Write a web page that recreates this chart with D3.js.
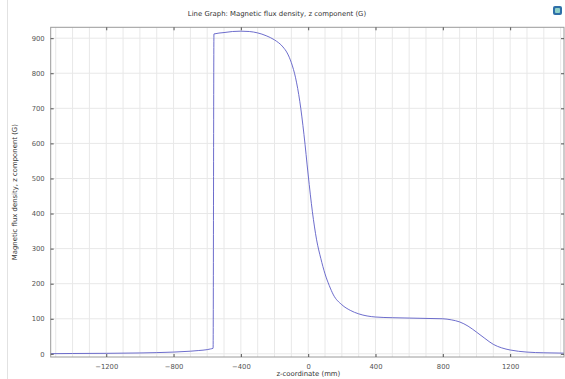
<!DOCTYPE html>
<html>
<head>
<meta charset="utf-8">
<script src="https://cdn.jsdelivr.net/npm/d3@7"></script>
<style>
  body { margin: 0; background: #fff; }
  svg text { font-family: "DejaVu Sans", sans-serif; }
</style>
</head>
<body>
<div id="chart"></div>
<script>
// z-coordinate (mm) and Bz (G)
const zPos = [-1530, -1400, -1200, -1000, -900, -800, -700, -650, -600, -580, -565,
  -560, -500, -450, -400, -350, -300, -250, -200, -150, -125, -100, -75, -50, -25,
  0, 25, 50, 75, 100, 125, 150, 200, 250, 300, 350, 400, 500, 600, 700, 800,
  850, 900, 950, 1000, 1050, 1100, 1150, 1200, 1300, 1400, 1520];
const bz = [0.5, 1, 1.5, 2.5, 3.5, 5, 7.5, 9.5, 12, 14, 16,
  912, 916, 919, 920, 919, 915, 907, 895, 875, 858, 830, 787, 720, 625,
  510, 405, 325, 272, 228, 195, 168, 140, 124, 114, 108, 105, 103, 102, 101, 100,
  97, 91, 79, 62, 44, 27, 17, 11, 5, 3, 2];
const xTicks = [-1200, -800, -400, 0, 400, 800, 1200];
const yTicks = [0, 100, 200, 300, 400, 500, 600, 700, 800, 900];

const W = 565, H = 379;
const plot = { left: 50.7, right: 564, top: 27.3, bottom: 357 };

const svg = d3.select('#chart').append('svg')
  .attr('width', W)
  .attr('height', H);

// panel border on the left
svg.append('line')
  .attr('x1', 7.5).attr('x2', 7.5).attr('y1', 0).attr('y2', H)
  .attr('stroke', '#e2e2e2');

const x = d3.scaleLinear().domain([-1530, 1520]).range([plot.left, plot.right]);
const y = d3.scaleLinear().domain([-9, 931]).range([plot.bottom, plot.top]);

// grid
const grid = svg.append('g').attr('class', 'grid');
grid.selectAll('line.vx')
  .data(d3.range(-1500, 1501, 100))
  .enter().append('line')
  .attr('x1', d => x(d)).attr('x2', d => x(d))
  .attr('y1', plot.top).attr('y2', plot.bottom)
  .attr('stroke', '#e8e8e8').attr('stroke-width', 1);
grid.selectAll('line.hy')
  .data(yTicks)
  .enter().append('line')
  .attr('x1', plot.left).attr('x2', plot.right)
  .attr('y1', d => y(d)).attr('y2', d => y(d))
  .attr('stroke', '#e8e8e8').attr('stroke-width', 1);

// data line
const line = d3.line()
  .x((d, i) => x(zPos[i]))
  .y(d => y(d))
  .curve(d3.curveMonotoneX);

svg.append('path')
  .datum(bz)
  .attr('d', line)
  .attr('fill', 'none')
  .attr('stroke', '#5c5cc6')
  .attr('stroke-width', 0.9);

// frame
svg.append('rect')
  .attr('x', plot.left).attr('y', plot.top)
  .attr('width', plot.right - plot.left)
  .attr('height', plot.bottom - plot.top)
  .attr('fill', 'none')
  .attr('stroke', '#9a9a9a');

// axes with inward ticks
function styleAxis(g) {
  g.select('.domain').remove();
  g.selectAll('.tick line').attr('stroke', '#555');
  g.selectAll('.tick text')
    .attr('fill', '#555')
    .style('font-size', '6.8px');
}

svg.append('g')
  .attr('transform', 'translate(0,' + plot.bottom + ')')
  .call(d3.axisBottom(x).tickValues(xTicks).tickSizeInner(-3).tickPadding(7).tickFormat(d3.format('d')))
  .call(styleAxis);

svg.append('g')
  .attr('transform', 'translate(0,' + plot.top + ')')
  .call(d3.axisTop(x).tickValues(xTicks).tickSizeInner(-3).tickFormat(''))
  .call(styleAxis);

svg.append('g')
  .attr('transform', 'translate(' + plot.left + ',0)')
  .call(d3.axisLeft(y).tickValues(yTicks).tickSizeInner(-3).tickPadding(6).tickFormat(d3.format('d')))
  .call(styleAxis);

svg.append('g')
  .attr('transform', 'translate(' + plot.right + ',0)')
  .call(d3.axisRight(y).tickValues(yTicks).tickSizeInner(-3).tickFormat(''))
  .call(styleAxis);

// titles
svg.append('text')
  .attr('x', 277).attr('y', 16)
  .attr('text-anchor', 'middle')
  .attr('fill', '#333')
  .style('font-size', '6.9px')
  .text('Line Graph: Magnetic flux density, z component (G)');

svg.append('text')
  .attr('x', (x(-1530) + x(1520)) / 2 + 1).attr('y', 376)
  .attr('text-anchor', 'middle')
  .attr('fill', '#333')
  .style('font-size', '6.9px')
  .text('z-coordinate (mm)');

svg.append('text')
  .attr('transform', 'translate(17,' + ((plot.top + plot.bottom) / 2) + ') rotate(-90)')
  .attr('text-anchor', 'middle')
  .attr('fill', '#333')
  .style('font-size', '6.9px')
  .text('Magnetic flux density, z component (G)');

// small toolbar icon, top right
const icon = svg.append('g').attr('transform', 'translate(553,6)');
icon.append('rect')
  .attr('width', 9).attr('height', 9).attr('rx', 2)
  .attr('fill', '#2f6fa8');
icon.append('rect')
  .attr('x', 2).attr('y', 2).attr('width', 5).attr('height', 5).attr('rx', 1)
  .attr('fill', '#8fd0c8');
</script>
</body>
</html>
